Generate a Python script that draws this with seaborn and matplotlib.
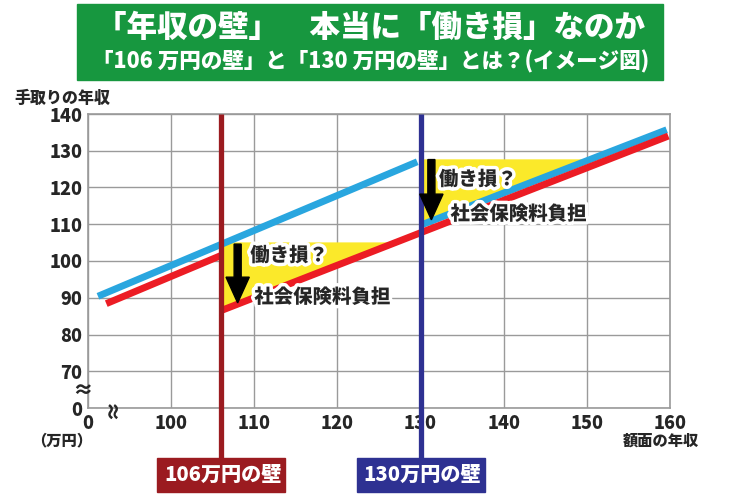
import numpy as np
import matplotlib
matplotlib.use('Agg')
import matplotlib.pyplot as plt
import matplotlib.patheffects as pe
from matplotlib.patches import Rectangle
import seaborn as sns

# ── Data ──────────────────────────────────────────────────────────────────────
x_ticks = [90, 100, 110, 120, 130, 140, 150, 160]
x_labels = ['0', '100', '110', '120', '130', '140', '150', '160']
y_ticks = [60, 70, 80, 90, 100, 110, 120, 130, 140]
y_labels = ['0', '70', '80', '90', '100', '110', '120', '130', '140']

# take-home without the wall effect (blue) and with social insurance (red)
blue_before_x = [91.2, 129.6]
blue_before_y = [90.4, 127.0]
blue_after_x = [130.3, 159.6]
blue_after_y = [110.0, 135.7]
red_before_x = [92.2, 106.0]
red_before_y = [88.4, 101.5]
red_after_x = [106.0, 159.8]
red_after_y = [86.5, 134.0]

walls = [106, 130]
wall_names = ['106万円の壁', '130万円の壁']
wall_colors = ['#9b1b20', '#2e3192']

# "働き損" zones: level kept before the wall, and where the lower line catches up
loss_level = [105.2, 127.8]
loss_end = [127.0, 150.0]
arrow_x = [108.0, 131.3]
arrow_top = [104.6, 127.6]
arrow_tip = [88.6, 111.2]

title1 = '「年収の壁」　本当に「働き損」なのか'
title2 = '「106 万円の壁」と「130 万円の壁」とは？(イメージ図)'

# ── Style ─────────────────────────────────────────────────────────────────────
sns.set_theme(style='white')
plt.rcParams['font.family'] = ['Noto Sans CJK JP', 'DejaVu Sans']
W = 'heavy'

fig = plt.figure(figsize=(7.5, 5), dpi=100)
ax = fig.add_axes([88 / 750, 92 / 500, 582 / 750, 294 / 500])

# yellow zones
line_pairs = [(red_after_x, red_after_y), (blue_after_x, blue_after_y)]
for i in range(2):
    xs = np.linspace(walls[i], loss_end[i], 50)
    lower = np.interp(xs, line_pairs[i][0], line_pairs[i][1])
    ax.fill_between(xs, lower, loss_level[i], where=lower <= loss_level[i],
                    color='#fbe92a', linewidth=0, zorder=2)

# lines
for xs, ys in [(blue_before_x, blue_before_y), (blue_after_x, blue_after_y)]:
    sns.lineplot(x=xs, y=ys, color='#29a6df', linewidth=5, ax=ax,
                 solid_capstyle='butt', zorder=3)
for xs, ys in [(red_before_x, red_before_y), (red_after_x, red_after_y)]:
    sns.lineplot(x=xs, y=ys, color='#ec1c24', linewidth=5, ax=ax,
                 solid_capstyle='butt', zorder=3)

# walls with label boxes
for w, name, c in zip(walls, wall_names, wall_colors):
    ax.plot([w, w], [46.4, 140], color=c, linewidth=3.8, clip_on=False,
            solid_capstyle='butt', zorder=5)
    px = 88 + (w - 90) * 582 / 70
    fig.patches.append(Rectangle(((px - 64) / 750, 8 / 500), 128 / 750, 34 / 500,
                                 transform=fig.transFigure, color=c, zorder=1))
    fig.text((px + 2) / 750, 25 / 500, name, color='white', fontsize=14.5,
             fontweight=W, ha='center', va='center')

# arrows and notes
stroke = [pe.withStroke(linewidth=5, foreground='white')]
for i in range(2):
    ax.arrow(arrow_x[i], arrow_top[i], 0, arrow_tip[i] - arrow_top[i],
             width=0.85, head_width=2.8, head_length=7.0,
             length_includes_head=True, color='black', zorder=6)
    base = walls[i]
    ax.text(base + 8.2 + i * (-1.3), arrow_tip[i] + 12.8 - i * 1.9, '働き損？',
            fontsize=14, fontweight=W, ha='center', va='center',
            path_effects=stroke, zorder=7)
    ax.text(base + 12.2 - i * 0.4, arrow_tip[i] + 1.5, '社会保険料負担',
            fontsize=14, fontweight=W, ha='center', va='center',
            path_effects=stroke, zorder=7)

# axes
ax.set_xlim(90, 160)
ax.set_ylim(60, 140)
ax.set_xticks(x_ticks)
ax.set_xticklabels(x_labels)
ax.set_yticks(y_ticks)
ax.set_yticklabels(y_labels)
ax.tick_params(length=0, pad=4, labelsize=13)
for lab in ax.get_xticklabels() + ax.get_yticklabels():
    lab.set_fontweight(W)
ax.grid(True, color='#9a9a9a', linewidth=1)
for s in ax.spines.values():
    s.set_color('#9a9a9a')
    s.set_linewidth(1.2)
ax.set_xlabel('')
ax.set_ylabel('')

# broken-axis marks
ax.text(89.3, 64.6, '≈', fontsize=15, fontweight=W, ha='center', va='center',
        clip_on=False)
ax.text(93.0, 59.8, '≈', fontsize=15, fontweight=W, ha='center', va='center',
        rotation=90, clip_on=False)

fig.text(62 / 750, 1 - 98 / 500, '手取りの年収', fontsize=11.5, fontweight=W,
         ha='center', va='center')
fig.text(661 / 750, 1 - 441 / 500, '額面の年収', fontsize=11, fontweight=W,
         ha='center', va='center')
fig.text(62 / 750, 1 - 441 / 500, '（万円）', fontsize=11, fontweight=W,
         ha='center', va='center')

# title
fig.patches.append(Rectangle((77 / 750, 1 - 80 / 500), 586 / 750, 76 / 500,
                             transform=fig.transFigure, color='#17973f', zorder=1))
fig.text(370 / 750, 1 - 27 / 500, title1, color='white', fontsize=22,
         fontweight=W, ha='center', va='center')
fig.text(371 / 750, 1 - 62 / 500, title2, color='white', fontsize=15.5,
         fontweight=W, ha='center', va='center')

fig.savefig('out.png', dpi=100)
